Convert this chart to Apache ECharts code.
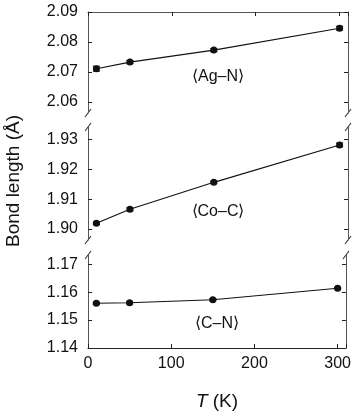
<!DOCTYPE html>
<html><head><meta charset="utf-8">
<script src="https://cdn.jsdelivr.net/npm/echarts@6/dist/echarts.min.js"></script>
<style>html,body{margin:0;padding:0;background:#fff}#c{width:354px;height:412px}</style>
</head><body><div id="c"></div>
<script>
// Data
const temps = [10, 50, 150, 300];
const agN = [2.0711, 2.0733, 2.0773, 2.0846];
const agNErr = [0.0008, 0.0005, 0.0005, 0.0006];
const coC = [1.9019, 1.9066, 1.9156, 1.9281];
const coCErr = [0.0004, 0.0005, 0.0004, 0.0006];
const cN = [1.1560, 1.1562, 1.1573, 1.1614];
const cNErr = [0.0004, 0.0004, 0.0004, 0.0003];
const xTicks = [0, 100, 200, 300];
const yTicksAg = [2.06, 2.07, 2.08, 2.09];
const yTicksCo = [1.90, 1.91, 1.92, 1.93];
const yTicksCN = [1.14, 1.15, 1.16, 1.17];
const panelLabels = ['\u27E8Ag\u2013N\u27E9', '\u27E8Co\u2013C\u27E9', '\u27E8C\u2013N\u27E9'];

const FONT = '"Liberation Sans", Arial, sans-serif';
const AX = '#555';
const chart = echarts.init(document.getElementById('c'));

const grids = [
  {left: 88, right: 6, top: 12, height: 101},
  {left: 88, right: 6, top: 127, height: 113},
  {left: 88, right: 6, top: 255, height: 100}
];
const yRanges = [[2.05633, 2.09], [1.89633, 1.9341], [1.14, 1.1733]];
const yTicks = [yTicksAg, yTicksCo, yTicksCN];
const vals = [agN, coC, cN];
const errs = [agNErr, coCErr, cNErr];

const xAxes = [], yAxes = [], series = [];
for (let g = 0; g < 3; g++) {
  xAxes.push({
    gridIndex: g, type: 'value', min: 0, max: 310, interval: 100,
    position: g === 0 ? 'top' : 'bottom',
    show: g !== 1,
    axisLine: {show: true, lineStyle: {color: g === 2 ? '#222' : AX, width: 1}},
    axisTick: {show: true, inside: true, length: 4, lineStyle: {color: '#222'}},
    axisLabel: {show: g === 2, color: '#111', fontSize: 16, fontFamily: FONT, margin: 8,
      customValues: xTicks},
    splitLine: {show: false},
    name: g === 2 ? '{i|T} (K)' : '',
    nameLocation: 'middle', nameGap: 44,
    nameTextStyle: {fontSize: 19, fontFamily: FONT, color: '#111',
      rich: {i: {fontStyle: 'italic', fontSize: 19, fontFamily: FONT, color: '#111'}}}
  });
  const base = {
    gridIndex: g, type: 'value', min: yRanges[g][0], max: yRanges[g][1],
    axisLine: {show: true, lineStyle: {color: AX, width: 1}},
    axisTick: {show: true, inside: true, length: 4, customValues: yTicks[g], lineStyle: {color: '#222'}},
    splitLine: {show: false}
  };
  yAxes.push(Object.assign({}, base, {
    position: 'left',
    axisLabel: {show: true, customValues: yTicks[g], formatter: v => v.toFixed(2),
      color: '#111', fontSize: 16, fontFamily: FONT, margin: 10}
  }));
  yAxes.push(Object.assign({}, base, {
    position: 'right', axisLabel: {show: false}
  }));
  series.push({
    type: 'line', xAxisIndex: g, yAxisIndex: 2 * g,
    data: temps.map((t, i) => [t, vals[g][i]]),
    symbol: 'circle', symbolSize: 7,
    lineStyle: {color: '#111', width: 1.1},
    itemStyle: {color: '#111'}, z: 3, animation: false
  });
  series.push({
    type: 'custom', xAxisIndex: g, yAxisIndex: 2 * g,
    data: temps.map((t, i) => [t, vals[g][i] - errs[g][i], vals[g][i] + errs[g][i]]),
    renderItem: function (params, api) {
      const lo = api.coord([api.value(0), api.value(1)]);
      const hi = api.coord([api.value(0), api.value(2)]);
      const w = 3.5;
      const st = {stroke: '#111', lineWidth: 1.2};
      return {type: 'group', children: [
        {type: 'line', shape: {x1: lo[0], y1: lo[1], x2: hi[0], y2: hi[1]}, style: st},
        {type: 'line', shape: {x1: lo[0] - w, y1: lo[1], x2: lo[0] + w, y2: lo[1]}, style: st},
        {type: 'line', shape: {x1: hi[0] - w, y1: hi[1], x2: hi[0] + w, y2: hi[1]}, style: st}
      ]};
    },
    z: 4, animation: false
  });
}

chart.setOption({
  animation: false,
  grid: grids,
  xAxis: xAxes,
  yAxis: yAxes,
  series: series
});

// decorations: break marks, panel labels, y title
const gfx = [];
const labelY = [2.0684, 1.9059, 1.1489];
for (let g = 0; g < 3; g++) {
  const p = chart.convertToPixel({xAxisIndex: g, yAxisIndex: 2 * g}, [155, labelY[g]]);
  gfx.push({type: 'text', x: p[0], y: p[1],
    style: {text: panelLabels[g], font: '16px ' + FONT, fill: '#111', align: 'center', verticalAlign: 'middle'}});
  const xl = chart.convertToPixel({xAxisIndex: g}, 0);
  const xr = chart.convertToPixel({xAxisIndex: g}, 310);
  const yt = chart.convertToPixel({yAxisIndex: 2 * g}, yRanges[g][1]);
  const yb = chart.convertToPixel({yAxisIndex: 2 * g}, yRanges[g][0]);
  const marks = [];
  if (g > 0) marks.push(yt);
  if (g < 2) marks.push(yb);
  marks.forEach(y => {
    [xl, xr].forEach(x => {
      gfx.push({type: 'line', shape: {x1: x - 3, y1: y + 4, x2: x + 3, y2: y - 4},
        style: {stroke: '#333', lineWidth: 1.1}});
    });
  });
}
gfx.push({type: 'text', x: 14, y: 181, rotation: Math.PI / 2,
  style: {text: 'Bond length (\u00C5)', font: '19px ' + FONT, fill: '#111', align: 'center', verticalAlign: 'middle'}});
chart.setOption({graphic: gfx});
</script></body></html>
